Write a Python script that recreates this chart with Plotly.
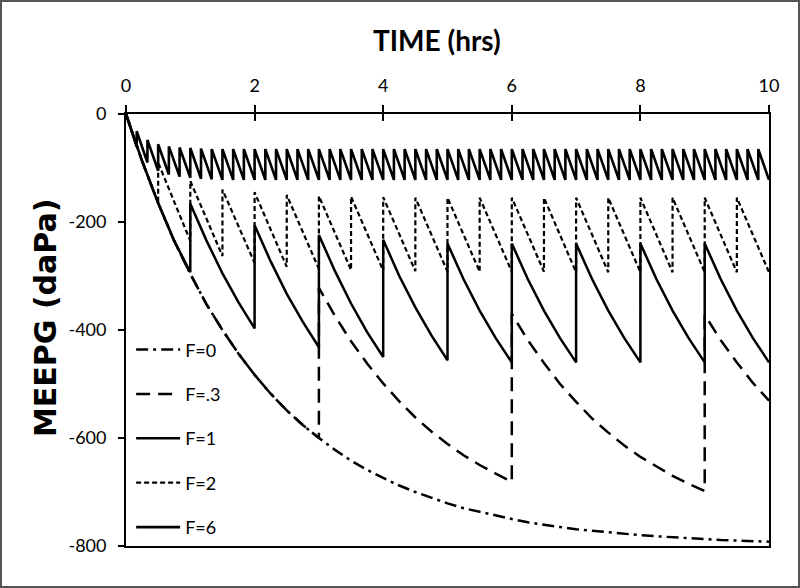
import plotly.graph_objects as go

# ---------------- data ----------------
# time axis tick labels
x_ticks = [0, 2, 4, 6, 8, 10]
y_ticks = [0, -200, -400, -600, -800]

# F=0 : no dosing, sampled every 0.25 h from 0 to 10 h
F0_step = 0.25
F0_vals = [0, -87, -165, -235, -296, -352, -400, -444, -483, -518, -549, -576, -600,
           -622, -642, -659, -674, -688, -700, -711, -721, -730, -737, -744, -750,
           -756, -761, -765, -769, -772, -775, -778, -780, -782, -784, -786, -788,
           -789, -790, -791, -792]

# F=.3 : segments between doses (3 h apart), values every 0.25 h
F03_starts = [0, 3, 6, 9]
F03_step = 0.25
F03_segs = [
    [0, -87, -165, -235, -296, -352, -400, -444, -483, -518, -549, -576, -600],
    [-322, -374, -421, -462, -499, -532, -562, -588, -611, -632, -650, -666, -681],
    [-370, -419, -461, -500, -533, -564, -590, -614, -635, -653, -670, -685, -698],
    [-372, -419, -460, -498, -531],
]

# F=1 : one dose per hour, values every 0.25 h
F1_starts = [0, 1, 2, 3, 4, 5, 6, 7, 8, 9]
F1_step = 0.25
F1_segs = [
    [0, -87, -165, -235, -293],
    [-166, -234, -295, -349, -397],
    [-206, -273, -333, -385, -432],
    [-224, -291, -351, -404, -450],
    [-233, -300, -358, -410, -456],
    [-240, -306, -364, -415, -460],
    [-240, -306, -364, -415, -460],
    [-240, -306, -364, -415, -460],
    [-240, -306, -364, -415, -460],
    [-240, -306, -364, -415, -460],
]

# F=2 : one dose every 0.5 h ; value just after each dose (peak) and just before (trough)
F2_period = 0.5
F2_first = [0, -87, -165]
F2_peaks = [-90, -124, -140, -145, -150, -152, -153, -154, -155, -155,
            -155, -155, -155, -155, -155, -155, -155, -155, -155]
F2_troughs = [-235, -263, -276, -283, -287, -289, -290, -291, -292, -292,
              -292, -292, -293, -293, -293, -293, -293, -293, -293]

# F=6 : one dose every 1/6 h
F6_period = 1.0 / 6.0
F6_first = [0, -61]
F6_peaks = [-32, -48, -56, -60, -62, -63, -64, -65, -65, -65,
            -65, -65, -65, -65, -65, -65, -65, -65, -65, -65,
            -65, -65, -65, -65, -65, -65, -65, -65, -65, -65,
            -65, -65, -65, -65, -65, -65, -65, -65, -65, -65,
            -65, -65, -65, -65, -65, -65, -65, -65, -65, -65,
            -65, -65, -65, -65, -65, -65, -65, -65, -65]
F6_troughs = [-90, -105, -112, -116, -118, -120, -121, -122, -122, -122,
              -122, -122, -122, -122, -122, -122, -122, -122, -122, -122,
              -122, -122, -122, -122, -122, -122, -122, -122, -122, -122,
              -122, -122, -122, -122, -122, -122, -122, -122, -122, -122,
              -122, -122, -122, -122, -122, -122, -122, -122, -122, -122,
              -122, -122, -122, -122, -122, -122, -122, -122, -122]


# ---------------- build path coordinates ----------------
def from_segments(starts, step, segs):
    xs, ys = [], []
    for s, seg in zip(starts, segs):
        for i, v in enumerate(seg):
            xs.append(s + i * step)
            ys.append(v)
    return xs, ys


def from_pairs(period, first, peaks, troughs):
    n0 = len(first) - 1
    xs = [i * period / n0 for i in range(len(first))]
    ys = list(first)
    for k, (p, t) in enumerate(zip(peaks, troughs), start=1):
        xs += [k * period, (k + 1) * period]
        ys += [p, t]
    return xs, ys


F0_x = [i * F0_step for i in range(len(F0_vals))]
F03_x, F03_y = from_segments(F03_starts, F03_step, F03_segs)
F1_x, F1_y = from_segments(F1_starts, F1_step, F1_segs)
F2_x, F2_y = from_pairs(F2_period, F2_first, F2_peaks, F2_troughs)
F6_x, F6_y = from_pairs(F6_period, F6_first, F6_peaks, F6_troughs)

series = [
    ("F=0", F0_x, F0_vals, "12px,5px,3px,5px", 2.5),
    ("F=.3", F03_x, F03_y, "14px,8px", 2.5),
    ("F=1", F1_x, F1_y, "solid", 2.5),
    ("F=2", F2_x, F2_y, "5px,3px", 2.2),
    ("F=6", F6_x, F6_y, "solid", 2.6),
]

fig = go.Figure()
for name, xs, ys, dash, w in series:
    fig.add_trace(go.Scatter(
        x=xs, y=ys, mode="lines", name=name, legendgroup=name,
        line=dict(color="black", width=w, dash=dash),
        xaxis="x", yaxis="y",
    ))
# invisible trace so the second (inside-tick) x axis is drawn
fig.add_trace(go.Scatter(x=[0, 10], y=[0, 0], mode="lines", showlegend=False,
                         line=dict(width=0), hoverinfo="skip", xaxis="x2", yaxis="y"))

W, H = 800, 588
ml, mr, mt, mb = 126, 31, 114, 42
pw, ph = W - ml - mr, H - mt - mb

tickfont = dict(family="Lato, Carlito, sans-serif", size=18, color="black")

fig.update_layout(
    width=W, height=H,
    margin=dict(l=ml, r=mr, t=mt, b=mb, autoexpand=False),
    paper_bgcolor="white", plot_bgcolor="white",
    showlegend=True,
    legend=dict(x=0.008, y=0.497, xanchor="left", yanchor="top",
                traceorder="grouped", tracegroupgap=18, itemwidth=44,
                font=dict(family="Lato, Carlito, sans-serif", size=18, color="black"),
                bgcolor="rgba(0,0,0,0)"),
    xaxis=dict(
        range=[0, 10], side="top", tickvals=x_ticks, ticktext=[str(v) for v in x_ticks],
        ticks="outside", ticklen=7, tickwidth=1.5, tickcolor="black",
        showline=True, linecolor="black", linewidth=1.8, mirror=True,
        showgrid=False, zeroline=False, tickfont=tickfont, ticklabelstandoff=6,
    ),
    xaxis2=dict(
        range=[0, 10], side="top", overlaying="x", tickvals=x_ticks,
        ticks="inside", ticklen=7, tickwidth=1.5, tickcolor="black",
        showticklabels=False, showline=False, showgrid=False, zeroline=False,
    ),
    yaxis=dict(
        range=[-800, 0], tickvals=y_ticks, ticktext=[str(v) for v in y_ticks],
        ticks="outside", ticklen=6, tickwidth=1.5, tickcolor="black",
        showline=True, linecolor="black", linewidth=1.8, mirror=True,
        showgrid=False, zeroline=False, tickfont=tickfont, ticklabelstandoff=8,
    ),
    annotations=[
        dict(text="<b>TIME (hrs)</b>", xref="paper", yref="paper",
             x=(437 - ml) / pw, y=(H - mb - 40) / ph, xanchor="center", yanchor="middle",
             showarrow=False,
             font=dict(family="Lato, Carlito, sans-serif", size=28, color="black")),
        dict(text="<b>MEEPG (daPa)</b>", xref="paper", yref="paper",
             x=(45 - ml) / pw, y=(H - mb - 318) / ph, xanchor="center", yanchor="middle",
             textangle=-90, showarrow=False,
             font=dict(family="DejaVu Sans, sans-serif", size=30, color="black")),
    ],
    shapes=[dict(type="rect", xref="paper", yref="paper",
                 x0=-(ml - 1) / pw, x1=1 + (mr - 1) / pw,
                 y0=-(mb - 1) / ph, y1=1 + (mt - 1) / ph,
                 line=dict(color="#555555", width=2), layer="above")],
)

fig.write_html("out.html", config={"displayModeBar": False},
               post_script="document.body.style.margin='0';")
